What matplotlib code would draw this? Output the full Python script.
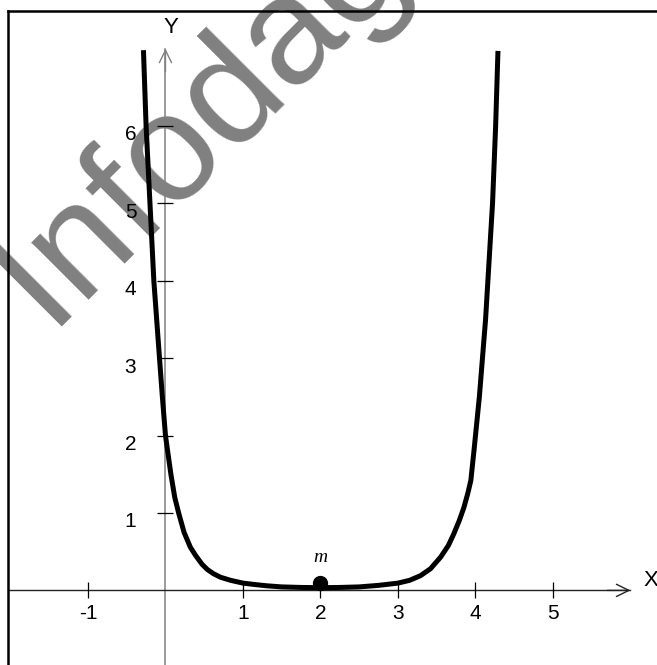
import matplotlib
matplotlib.use("Agg")
import matplotlib.pyplot as plt
import matplotlib.transforms as mtransforms
from matplotlib.lines import Line2D

# curve (x, y)
curve_x = [-0.284, -0.25, -0.20, -0.15, -0.077, -0.04, 0.0, 0.07, 0.12, 0.17,
           0.24, 0.32, 0.39, 0.47, 0.54, 0.62, 0.71, 0.84, 1.0, 1.14,
           1.3, 1.5, 1.75, 2.0, 2.25, 2.5, 2.75, 3.0, 3.15, 3.29,
           3.42, 3.55, 3.65, 3.72, 3.79, 3.85, 3.9, 3.94, 3.98, 4.0,
           4.05, 4.09, 4.13, 4.16, 4.19, 4.22, 4.24, 4.26, 4.29]
curve_y = [6.98, 6.0, 5.0, 4.0, 3.0, 2.5, 2.0, 1.5, 1.2, 1.0,
           0.75, 0.56, 0.45, 0.34, 0.27, 0.215, 0.17, 0.13, 0.094, 0.077,
           0.06, 0.045, 0.038, 0.035, 0.038, 0.045, 0.065, 0.094, 0.13, 0.19,
           0.28, 0.43, 0.58, 0.73, 0.9, 1.07, 1.25, 1.42, 1.8, 2.0,
           2.5, 3.0, 3.5, 4.0, 4.5, 5.0, 5.5, 6.0, 6.97]

point_m = (2.0, 0.09)
x_ticks = [-1, 1, 2, 3, 4, 5]
y_ticks = [1, 2, 3, 4, 5, 6]

plt.rcParams['font.family'] = ['Liberation Sans', 'DejaVu Sans']

fig = plt.figure(figsize=(6.57, 6.65), dpi=100)
ax = fig.add_axes([0, 0, 1, 1])
ax.set_xlim(-2.135, 6.342)
ax.set_ylim(-0.964, 7.628)

# watermark
ax.text(0.45, 6.1, "Infodag", fontsize=110, color="#808080", rotation=45,
        ha="center", va="center", rotation_mode="anchor", zorder=0,
        clip_on=True)

# axes through origin
for side in ["top", "right"]:
    ax.spines[side].set_visible(False)
ax.spines["left"].set_position(("data", 0))
ax.spines["bottom"].set_position(("data", 0))
ax.spines["left"].set_color("#808080")
ax.spines["left"].set_linewidth(1.1)
ax.spines["bottom"].set_color("#222222")
ax.spines["bottom"].set_linewidth(1.0)
ax.spines["left"].set_bounds(-0.964, 7.0)
ax.spines["bottom"].set_bounds(-2.03, 6.0)
ax.spines["left"].set_zorder(1)
ax.spines["bottom"].set_zorder(1)

ax.set_xticks(x_ticks)
ax.set_yticks(y_ticks)
ax.set_xticklabels([str(t) for t in x_ticks])
ax.set_yticklabels([str(t) for t in y_ticks])
ax.tick_params(axis="both", direction="inout", length=12, width=0.9,
               color="black", labelsize=15)
ax.tick_params(axis="x", pad=4)
ax.tick_params(axis="y", pad=15)
shift = mtransforms.ScaledTranslation(0, -5 / 72, fig.dpi_scale_trans)
for lab in ax.get_yticklabels():
    lab.set_transform(lab.get_transform() + shift)

# arrow heads
ax.annotate("", xy=(6.0, 0), xytext=(5.7, 0),
            arrowprops=dict(arrowstyle="->,head_length=0.45,head_width=0.22",
                            color="#222222", lw=1.0, mutation_scale=20,
                            shrinkA=0, shrinkB=0))
ax.annotate("", xy=(0, 7.0), xytext=(0, 6.7),
            arrowprops=dict(arrowstyle="->,head_length=0.45,head_width=0.22",
                            color="#808080", lw=1.0, mutation_scale=20,
                            shrinkA=0, shrinkB=0))
ax.text(6.26, 0.13, "X", fontsize=16, ha="center", va="center")
ax.text(0.065, 7.27, "Y", fontsize=16, ha="center", va="center")

# curve and point
ax.plot(curve_x, curve_y, color="black", lw=3.6, solid_capstyle="butt",
        solid_joinstyle="round", zorder=3)
ax.plot(*point_m, "o", color="black", markersize=10, zorder=4)
ax.text(point_m[0], point_m[1] + 0.34, "m", family="Liberation Serif",
        style="italic", fontsize=14, ha="center", va="center")

# frame
fig.add_artist(Line2D([8 / 657, 1], [1 - 11 / 665, 1 - 11 / 665],
                      color="black", lw=1.8))
fig.add_artist(Line2D([8 / 657, 8 / 657], [0, 1 - 11 / 665],
                      color="black", lw=1.8))

fig.savefig("out.png", dpi=100)
